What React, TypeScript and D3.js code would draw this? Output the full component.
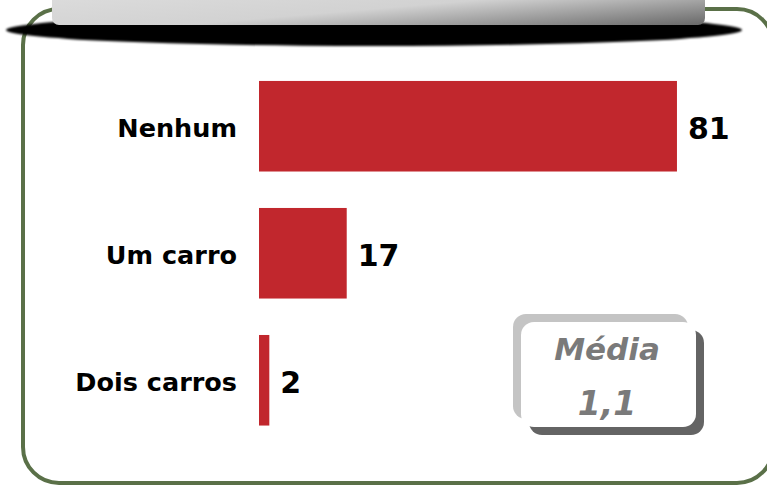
import React from "react";
import * as d3 from "d3";

const categories = ["Nenhum", "Um carro", "Dois carros"];
const values = [81, 17, 2];
const meanLabel = "Média";
const meanValue = "1,1";

const W = 767;
const H = 486;

export default function App() {
  const x = d3.scaleLinear().domain([0, 100]).range([259, 775]);
  const y = d3
    .scaleBand<string>()
    .domain(categories)
    .range([44.5, 462])
    .paddingInner(0.287)
    .paddingOuter(0.287);

  const labelFont = "'DejaVu Sans', Verdana, sans-serif";

  return (
    <svg
      width={W}
      height={H}
      style={{ position: "absolute", left: 0, top: 0, background: "#fff" }}
    >
      <defs>
        <linearGradient id="titleGrad" x1="0" y1="0" x2="1" y2="1">
          <stop offset="0" stopColor="#e2e2e2" />
          <stop offset="0.6" stopColor="#d2d2d2" />
          <stop offset="1" stopColor="#686868" />
        </linearGradient>
        <filter id="blur" x="-5%" y="-50%" width="110%" height="200%">
          <feGaussianBlur stdDeviation="1.2" />
        </filter>
      </defs>

      {/* frame */}
      <rect
        x={23}
        y={9}
        width={750}
        height={474}
        rx={36}
        ry={36}
        fill="#fff"
        stroke="#5a7048"
        strokeWidth={4}
      />

      {/* title shadow + box (cut off at top) */}
      <ellipse cx={374} cy={30} rx={368} ry={16} fill="#000" filter="url(#blur)" />
      <rect x={52} y={-30} width={653} height={55} rx={7} fill="url(#titleGrad)" />

      {/* bars */}
      {categories.map((c, i) => (
        <g key={c}>
          <rect
            x={x(0)}
            y={y(c)}
            width={x(values[i]) - x(0)}
            height={y.bandwidth()}
            fill="#c1272d"
          />
          <text
            x={237}
            y={(y(c) as number) + y.bandwidth() / 2 + 11}
            textAnchor="end"
            fontFamily={labelFont}
            fontWeight="bold"
            fontSize={25.5}
            fill="#000"
          >
            {c}
          </text>
          <text
            x={x(values[i]) + 11}
            y={(y(c) as number) + y.bandwidth() / 2 + 13}
            fontFamily={labelFont}
            fontWeight="bold"
            fontSize={30}
            fill="#000"
          >
            {values[i]}
          </text>
        </g>
      ))}

      {/* mean box */}
      <g>
        <rect x={513} y={314} width={175} height={105} rx={13} fill="#c4c4c4" />
        <rect x={529} y={330} width={175} height={105} rx={13} fill="#646464" />
        <rect x={521} y={322} width={175} height={105} rx={13} fill="#fff" />
        <text
          x={607}
          y={360}
          textAnchor="middle"
          fontFamily={labelFont}
          fontStyle="italic"
          fontWeight="bold"
          fontSize={31}
          fill="#7a7a7a"
        >
          {meanLabel}
        </text>
        <text
          x={607}
          y={415}
          textAnchor="middle"
          fontFamily={labelFont}
          fontStyle="italic"
          fontWeight="bold"
          fontSize={33}
          fill="#7a7a7a"
        >
          {meanValue}
        </text>
      </g>
    </svg>
  );
}
